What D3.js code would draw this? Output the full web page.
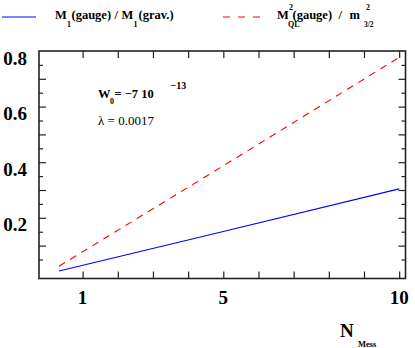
<!DOCTYPE html>
<html>
<head>
<meta charset="utf-8">
<script src="https://cdn.jsdelivr.net/npm/d3@7"></script>
<style>
  body { margin: 0; background: #fff; }
  text { font-family: "Liberation Serif", "DejaVu Serif", serif; }
</style>
</head>
<body>
<div id="chart-area"></div>
<script>
// data
const nMess = [0.33, 5, 10]
const ratioGauge = [0.009, 0.151, 0.304]   // M1(gauge) / M1(grav.)
const ratioQL = [0.026, 0.387, 0.777]      // M_QL^2(gauge) / m_3/2^2
const xTicks = [1, 2, 3, 4, 5, 6, 7, 8, 9, 10]
const xLabels = [1, 5, 10]
const yMajor = [0.1, 0.2, 0.3, 0.4, 0.5, 0.6, 0.7]
const yMinor = [0.05, 0.15, 0.25, 0.35, 0.45, 0.55, 0.65, 0.75]
const yLabels = [0.2, 0.4, 0.6, 0.8]

const W = 415, H = 348
const FRAME = { LEFT: 39, RIGHT: 405.5, TOP: 51, BOTTOM: 278.5 }

const svg = d3.select("#chart-area").append("svg")
	.attr("width", W)
	.attr("height", H)

const x = d3.scaleLinear().domain([-0.24, 10.18]).range([FRAME.LEFT, FRAME.RIGHT])
const y = d3.scaleLinear().domain([-0.0183, 0.8]).range([FRAME.BOTTOM, FRAME.TOP])

// ticks on all four sides, pointing in
function tickAxis(gen, transform) {
	const g = svg.append("g").attr("transform", transform).call(gen)
	g.select(".domain").remove()
	g.selectAll("line").attr("stroke", "#222").attr("stroke-width", 1.2)
	g.selectAll("text").remove()
	return g
}
tickAxis(d3.axisBottom(x).tickValues(xTicks).tickSize(-7), `translate(0,${FRAME.BOTTOM})`)
tickAxis(d3.axisTop(x).tickValues(xTicks).tickSize(-7), `translate(0,${FRAME.TOP})`)
tickAxis(d3.axisLeft(y).tickValues(yMajor).tickSize(-7), `translate(${FRAME.LEFT},0)`)
tickAxis(d3.axisLeft(y).tickValues(yMinor).tickSize(-4), `translate(${FRAME.LEFT},0)`)
tickAxis(d3.axisRight(y).tickValues(yMajor).tickSize(-7), `translate(${FRAME.RIGHT},0)`)
tickAxis(d3.axisRight(y).tickValues(yMinor).tickSize(-4), `translate(${FRAME.RIGHT},0)`)

// frame
svg.append("rect")
	.attr("x", FRAME.LEFT)
	.attr("y", FRAME.TOP)
	.attr("width", FRAME.RIGHT - FRAME.LEFT)
	.attr("height", FRAME.BOTTOM - FRAME.TOP)
	.attr("fill", "none")
	.attr("stroke", "#222")
	.attr("stroke-width", 1.6)

// tick labels
svg.selectAll(".xlab").data(xLabels).enter().append("text")
	.attr("class", "xlab")
	.attr("x", d => x(d))
	.attr("y", 304)
	.attr("text-anchor", "middle")
	.attr("font-size", "19px")
	.attr("font-weight", "bold")
	.text(d => d)

svg.selectAll(".ylab").data(yLabels).enter().append("text")
	.attr("class", "ylab")
	.attr("x", 27)
	.attr("y", d => y(d) + 13.5)
	.attr("text-anchor", "end")
	.attr("font-size", "19px")
	.attr("font-weight", "bold")
	.text(d => d3.format(".1f")(d))

// lines
const line = d3.line()
	.x((d, i) => x(nMess[i]))
	.y(d => y(d))

svg.append("path")
	.attr("d", line(ratioGauge))
	.attr("fill", "none")
	.attr("stroke", "#0000ff")
	.attr("stroke-width", 1.1)

svg.append("path")
	.attr("d", line(ratioQL))
	.attr("fill", "none")
	.attr("stroke", "#ff0000")
	.attr("stroke-width", 1.1)
	.attr("stroke-dasharray", "7,6")

// legend
svg.append("line")
	.attr("x1", 2).attr("x2", 36).attr("y1", 17).attr("y2", 17)
	.attr("stroke", "#0000ff").attr("stroke-width", 1.1)
svg.append("line")
	.attr("x1", 223).attr("x2", 261).attr("y1", 17).attr("y2", 17)
	.attr("stroke", "#ff0000").attr("stroke-width", 1.1)
	.attr("stroke-dasharray", "7,8")

const leg1 = svg.append("text").attr("font-size", "12.5px").attr("font-weight", "bold")
leg1.append("tspan").attr("x", 55).attr("y", 18.5).text("M")
leg1.append("tspan").attr("x", 67).attr("y", 27).attr("font-size", "8px").text("1")
leg1.append("tspan").attr("x", 71.5).attr("y", 18.5).text("(gauge)")
leg1.append("tspan").attr("x", 114.5).attr("y", 18.5).text("/")
leg1.append("tspan").attr("x", 121.5).attr("y", 18.5).text("M")
leg1.append("tspan").attr("x", 133.5).attr("y", 27).attr("font-size", "8px").text("1")
leg1.append("tspan").attr("x", 138.5).attr("y", 18.5).text("(grav.)")

const leg2 = svg.append("text").attr("font-size", "12.5px").attr("font-weight", "bold")
leg2.append("tspan").attr("x", 277).attr("y", 18.5).text("M")
leg2.append("tspan").attr("x", 289).attr("y", 10).attr("font-size", "8px").text("2")
leg2.append("tspan").attr("x", 288).attr("y", 27).attr("font-size", "8px").text("QL")
leg2.append("tspan").attr("x", 292.5).attr("y", 18.5).text("(gauge)")
leg2.append("tspan").attr("x", 338.5).attr("y", 18.5).text("/")
leg2.append("tspan").attr("x", 349.5).attr("y", 18.5).text("m")
leg2.append("tspan").attr("x", 366).attr("y", 10).attr("font-size", "8px").text("2")
leg2.append("tspan").attr("x", 364).attr("y", 27).attr("font-size", "7.5px").text("3/2")

// annotation
const ann = svg.append("text").attr("font-size", "12.5px").attr("font-weight", "bold")
ann.append("tspan").attr("x", 98).attr("y", 97.5).text("W")
ann.append("tspan").attr("x", 110).attr("y", 104).attr("font-size", "8px").text("0")
ann.append("tspan").attr("x", 114.5).attr("y", 97.5).text("= \u22127 10")
ann.append("tspan").attr("x", 170.5).attr("y", 89).attr("font-size", "10px").text("\u221213")

svg.append("text")
	.attr("x", 98).attr("y", 125)
	.attr("font-size", "13px")
	.text("\u03bb = 0.0017")

// x title
const xt = svg.append("text").attr("font-weight", "bold")
xt.append("tspan").attr("x", 340).attr("y", 337).attr("font-size", "19px").text("N")
xt.append("tspan").attr("x", 358).attr("y", 346.5).attr("font-size", "8.5px").text("Mess")
</script>
</body>
</html>
